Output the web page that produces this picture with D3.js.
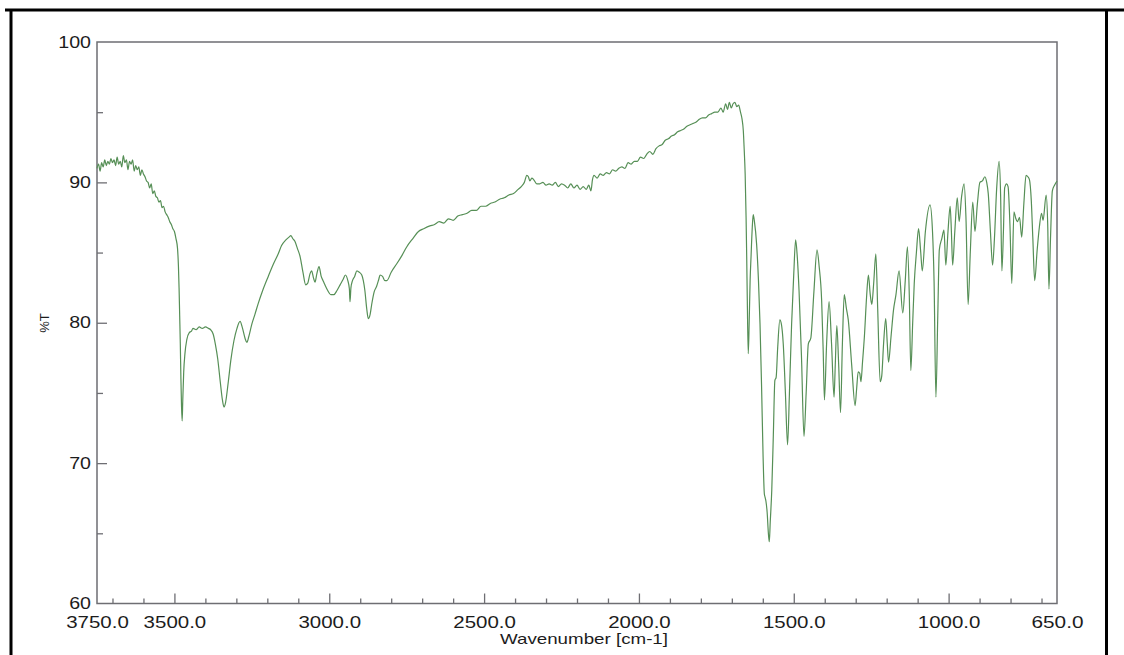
<!DOCTYPE html>
<html>
<head>
<meta charset="utf-8">
<script src="https://cdn.jsdelivr.net/npm/d3@7"></script>
<style>
  html, body { margin: 0; padding: 0; background: #ffffff; }
  svg text { font-family: "Liberation Sans", Arial, sans-serif; fill: #1c1c1c; }
</style>
</head>
<body>
<svg id="chart" width="1124" height="655"></svg>
<script>
// IR spectrum, [wavenumber cm-1, %T], high to low wavenumber
const ohStretchRegion = [
  [3750,91.0],[3745,91.3],[3740,90.8],[3735,91.4],[3730,91.1],[3725,91.6],[3720,91.2],[3715,91.5],
  [3710,91.3],[3705,91.7],[3700,91.4],[3695,91.6],[3690,91.2],[3685,91.8],[3680,91.3],[3675,91.5],
  [3670,91.1],[3665,91.9],[3660,91.4],[3655,91.6],[3650,90.9],[3645,91.5],[3640,91.3],[3635,91.6],
  [3630,90.8],[3625,91.2],[3620,90.9],[3615,91.1],[3610,90.5],[3605,90.9],[3600,90.6],[3595,90.4],
  [3590,90.1],[3585,90.0],[3580,89.6],[3575,89.9],[3570,89.2],[3565,89.4],[3560,89.0],[3555,88.9],
  [3550,88.6],[3545,88.7],[3540,88.2],[3535,88.3],[3530,87.9],[3525,87.7],[3520,87.5],[3515,87.2],
  [3510,87.0],[3505,86.7],[3500,86.5],[3495,86.0],[3490,85.3],[3487,84.0],[3485,82.5],[3483,80.5],
  [3481,78.5],[3479,76.0],[3477,74.0],[3475,73.0],[3473,74.5],[3470,76.5],[3466,77.8],[3460,78.8],
  [3452,79.3],[3445,79.4],[3440,79.6],[3430,79.5],[3420,79.7],[3410,79.6],[3400,79.7],[3390,79.6],
  [3383,79.5],[3375,79.2],[3368,78.5],[3360,77.4],[3352,75.8],[3345,74.5],[3340,74.0],[3335,74.3],
  [3326,75.8],[3318,77.3],[3308,78.7],[3298,79.6],[3288,80.1],[3280,79.6],[3272,78.9],[3266,78.6],
  [3260,79.0],[3250,79.9],[3240,80.6],[3229,81.4],[3215,82.3],[3197,83.3],[3180,84.2],[3165,84.9],
  [3154,85.5],[3140,85.9],[3130,86.1],[3124,86.2],[3118,86.0],[3111,85.8],[3103,85.3],[3094,84.7],
  [3085,83.6],[3076,82.7],[3070,82.8],[3062,83.5],[3057,83.7],[3051,83.2],[3046,82.9],[3040,83.5],
  [3033,84.0],[3026,83.3],[3020,83.0],[3014,82.7],[3005,82.3]
];

const chStretchRegion = [
  [2995,82.0],[2985,82.0],[2975,82.3],[2965,82.7],[2955,83.1],[2948,83.4],[2940,83.0],[2935,82.4],
  [2933,81.5],[2930,82.5],[2925,83.0],[2918,83.3],[2911,83.7],[2903,83.6],[2895,83.4],[2890,83.0],
  [2885,82.3],[2879,81.0],[2874,80.3],[2868,80.6],[2863,81.3],[2855,82.2],[2847,82.6],[2840,83.1],
  [2836,83.4],[2828,83.3],[2820,83.0],[2814,83.0],[2800,83.6],[2782,84.2],[2765,84.8],[2750,85.4],
  [2730,86.0],[2712,86.5],[2695,86.7],[2675,86.9]
];

const midRegion = [
  [2660,87.0],[2645,87.2],[2630,87.1],[2615,87.4],[2600,87.3],[2585,87.6],[2570,87.7],[2555,87.8],
  [2540,88.0],[2525,88.0],[2510,88.3],[2495,88.3],[2480,88.5],[2465,88.6],[2450,88.8],[2435,88.9],
  [2420,89.1],[2405,89.2],[2390,89.5],[2380,89.7],[2370,90.0],[2362,90.5],[2357,90.4],[2352,90.1],
  [2346,90.3],[2340,90.2],[2330,89.9],[2320,89.9],[2310,90.0],[2300,89.8],[2290,89.9],[2280,89.8],
  [2270,90.0],[2260,89.7],[2250,89.9],[2240,89.8],[2230,89.6],[2220,89.9],[2210,89.6],[2200,89.8],
  [2190,89.5],[2180,89.7],[2170,89.5],[2162,89.8],[2155,89.4],[2150,90.2],[2145,90.5],[2135,90.3],
  [2125,90.6],[2115,90.5],[2105,90.7],[2095,90.6],[2085,90.9],[2075,90.8],[2065,91.0],[2055,91.1],
  [2045,91.0],[2035,91.4],[2025,91.3],[2015,91.5],[2005,91.5],[1995,91.8],[1985,91.7],[1975,92.0],
  [1965,92.2],[1955,92.0],[1945,92.4],[1935,92.6],[1925,92.7],[1915,93.0],[1905,93.1],[1895,93.3],
  [1885,93.4],[1875,93.6],[1865,93.7],[1855,93.8],[1845,94.0],[1835,94.1],[1825,94.2],[1815,94.3],
  [1805,94.5],[1795,94.6],[1785,94.6],[1775,94.8],[1765,94.9],[1755,95.0],[1745,95.0],[1735,95.3],
  [1728,95.0],[1720,95.6],[1714,95.2],[1708,95.7],[1702,95.3],[1696,95.6],[1690,95.7],[1684,95.4]
];

const fingerprintRegion = [
  [1678,95.5],[1672,95.0],[1667,94.5],[1663,93.7],[1660,92.3],[1657,90.6],[1654,87.5],[1652,84.7],
  [1650,81.5],[1647,77.8],[1644,80.0],[1641,83.0],[1638,84.7],[1634,86.8],[1631,87.7],[1627,87.2],
  [1620,85.6],[1614,83.0],[1609,79.9],[1604,75.5],[1599,70.4],[1595,67.8],[1593,67.6],[1590,67.3],
  [1586,66.5],[1582,65.0],[1579,64.4],[1576,65.8],[1571,68.1],[1566,72.0],[1561,75.9],[1557,76.1],
  [1552,78.2],[1545,80.2],[1540,79.9],[1534,78.5],[1527,75.0],[1520,71.3],[1514,75.0],[1507,79.9],
  [1500,83.5],[1494,85.9],[1489,84.8],[1483,82.3],[1475,77.5],[1467,71.9],[1460,75.0],[1453,78.5],
  [1445,78.9],[1435,82.2],[1425,85.2],[1418,84.0],[1410,81.6],[1405,78.0],[1401,74.5],[1394,78.5],
  [1386,81.5],[1378,78.5],[1370,74.7],[1366,77.0],[1361,79.8],[1355,77.0],[1349,73.6],[1343,78.5],
  [1337,82.0],[1330,81.0],[1324,80.2],[1313,77.0],[1302,74.1],[1297,75.3],[1292,76.5],[1287,76.4],
  [1283,75.8],[1278,77.2],[1272,79.0],[1265,81.8],[1259,83.4],[1253,82.0],[1248,81.3],[1242,82.8],
  [1235,84.9],[1229,81.0],[1221,75.8],[1216,76.2],[1210,78.5],[1203,80.3],[1198,78.5],[1194,77.2],
  [1186,79.0],[1178,80.9],[1170,82.0],[1160,83.7],[1148,80.7],[1140,83.0],[1133,85.4],[1127,82.0],
  [1122,76.6],[1116,80.0],[1111,82.8],[1104,85.0],[1097,86.7],[1090,85.0],[1085,83.7],[1075,86.5],
  [1060,88.4],[1052,86.5],[1047,83.0],[1041,74.7],[1035,80.5],[1030,85.2],[1022,86.0],[1015,86.6],
  [1009,84.1],[1002,86.5],[995,88.3],[991,86.5],[987,84.1],[980,86.5],[972,88.9],[966,87.2],
  [958,89.0],[950,89.9],[944,87.5],[937,81.3],[930,85.0],[922,88.6],[915,86.5],[907,88.5],
  [899,90.0],[891,90.1],[883,90.4],[877,90.0],[872,89.2],[865,86.5],[858,84.1],[852,86.0],
  [845,89.5],[837,91.5],[832,89.0],[828,83.7],[823,86.5],[819,89.6],[813,89.9],[808,89.7],
  [802,87.0],[796,82.8],[789,87.9],[784,87.5],[778,87.2],[771,87.5],[764,86.1],[757,88.5],
  [750,90.5],[744,90.4],[739,90.2],[733,88.7],[728,86.0],[722,83.0],[714,85.2],[707,86.8],
  [700,87.8],[695,87.3],[685,89.1],[680,87.0],[676,82.4],[671,86.0],[665,89.4],[658,89.8],
  [650,90.1]
];

// axis tick positions and labels
const xLabelTicks = [3750, 3500, 3000, 2500, 2000, 1500, 1000, 650];
const xMajorTicks = [3500, 3000, 2500, 2000, 1500, 1000];
const xMinorTicks = [3700, 3600, 3400, 3300, 3200, 3100, 2900, 2800, 2700, 2600, 2400, 2300, 2200, 2100,
                     1900, 1800, 1700, 1600, 1400, 1300, 1200, 1100, 900, 800, 700];
const yLabelTicks = [60, 70, 80, 90, 100];
const yMajorTicks = [70, 80, 90];
const yMinorTicks = [65, 75, 85, 95];

const spectrum = [].concat(ohStretchRegion, chStretchRegion, midRegion, fingerprintRegion);

const svg = d3.select("#chart");
const plotLeft = 97, plotRight = 1057, plotTop = 42, plotBottom = 603.5;

const x = d3.scaleLinear().domain([3750, 650]).range([plotLeft, plotRight]);
const y = d3.scaleLinear().domain([60, 100]).range([plotBottom, plotTop]);

// outer page frame
const frame = svg.append("g").attr("stroke", "#000").attr("stroke-width", 3).attr("fill", "none");
frame.append("line").attr("x1", 5).attr("x2", 1124).attr("y1", 10).attr("y2", 10);
frame.append("line").attr("x1", 11).attr("x2", 11).attr("y1", 9).attr("y2", 655);
frame.append("line").attr("x1", 1106.5).attr("x2", 1106.5).attr("y1", 9).attr("y2", 655);

// plot box
svg.append("rect")
  .attr("x", plotLeft).attr("y", plotTop)
  .attr("width", plotRight - plotLeft).attr("height", plotBottom - plotTop)
  .attr("fill", "none").attr("stroke", "#6e6e73").attr("stroke-width", 1.5);

function styleTicks(g) {
  g.select(".domain").remove();
  g.selectAll(".tick line").attr("stroke", "#6e6e73").attr("stroke-width", 1.3);
}

// x ticks point up into the plot
svg.append("g").attr("transform", `translate(0,${plotBottom})`)
  .call(d3.axisBottom(x).tickValues(xMinorTicks).tickSize(-5).tickFormat(""))
  .call(styleTicks);
svg.append("g").attr("transform", `translate(0,${plotBottom})`)
  .call(d3.axisBottom(x).tickValues(xMajorTicks).tickSize(-10).tickFormat(""))
  .call(styleTicks);

// y ticks point right into the plot
svg.append("g").attr("transform", `translate(${plotLeft},0)`)
  .call(d3.axisLeft(y).tickValues(yMinorTicks).tickSize(-6).tickFormat(""))
  .call(styleTicks);
svg.append("g").attr("transform", `translate(${plotLeft},0)`)
  .call(d3.axisLeft(y).tickValues(yMajorTicks).tickSize(-10).tickFormat(""))
  .call(styleTicks);

// tick labels (the face is set wide, so each label is given its length)
const xFmt = d3.format(".1f");
const xLab = svg.append("g").attr("transform", `translate(0,${plotBottom})`)
  .call(d3.axisBottom(x).tickValues(xLabelTicks).tickSize(0).tickPadding(13).tickFormat(xFmt));
xLab.select(".domain").remove();
xLab.selectAll("text")
  .attr("font-size", 16.5).attr("font-family", "'Liberation Sans', Arial, sans-serif").attr("fill", "#1c1c1c")
  .attr("textLength", d => xFmt(d).length * 10.6 - 1)
  .attr("lengthAdjust", "spacingAndGlyphs");

const yLab = svg.append("g").attr("transform", `translate(${plotLeft},0)`)
  .call(d3.axisLeft(y).tickValues(yLabelTicks).tickSize(0).tickPadding(6));
yLab.select(".domain").remove();
yLab.selectAll("text")
  .attr("font-size", 16).attr("font-family", "'Liberation Sans', Arial, sans-serif").attr("fill", "#1c1c1c")
  .attr("textLength", d => String(d).length * 10.9)
  .attr("lengthAdjust", "spacingAndGlyphs");

// axis titles
svg.append("text")
  .attr("x", 584).attr("y", 644)
  .attr("text-anchor", "middle")
  .attr("font-size", 15)
  .attr("textLength", 168).attr("lengthAdjust", "spacingAndGlyphs")
  .text("Wavenumber [cm-1]");

svg.append("text")
  .attr("transform", "translate(49,323) rotate(-90)")
  .attr("text-anchor", "middle")
  .attr("font-size", 13)
  .text("%T");

// spectrum trace
const line = d3.line()
  .x(d => x(d[0]))
  .y(d => y(d[1]))
  .curve(d3.curveMonotoneX);

svg.append("path")
  .datum(spectrum)
  .attr("d", line)
  .attr("fill", "none")
  .attr("stroke", "#568f56")
  .attr("stroke-width", 1.2)
  .attr("stroke-linejoin", "round");
</script>
</body>
</html>
